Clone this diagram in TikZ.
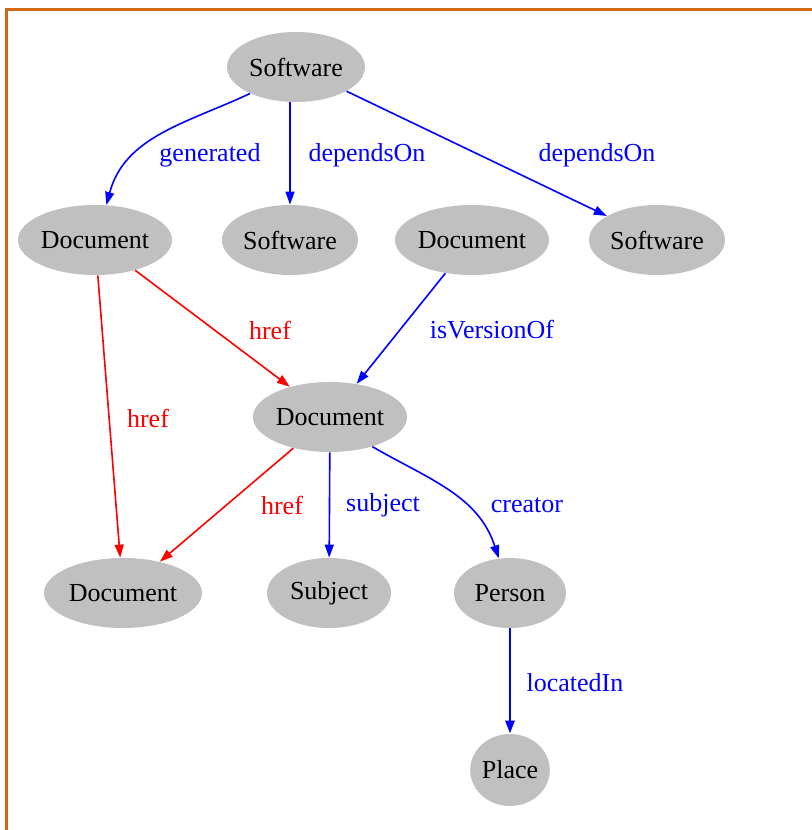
\documentclass[tikz,border=0pt]{standalone}
\usepackage{fontspec}
\setmainfont{Liberation Serif}
\usetikzlibrary{arrows.meta, shapes.geometric}
\definecolor{resgray}{RGB}{192,192,192}
\definecolor{frameorange}{RGB}{210,105,20}
\tikzset{
  res/.style={
    ellipse, fill=resgray, draw=none,
    minimum width=77pt, minimum height=35pt,
    inner sep=0pt, font=\fontsize{13}{15}\selectfont,
  },
  link/.style={
    -{Triangle[length=6.5pt, width=4.5pt]}, line width=0.8pt, draw=blue,
  },
  hreflink/.style={
    -{Triangle[length=6.5pt, width=4.5pt]}, line width=0.8pt, draw=red,
  },
  blabel/.style={
    text=blue, font=\fontsize{13}{15}\selectfont,
  },
  rlabel/.style={
    text=red, font=\fontsize{13}{15}\selectfont,
  },
  frame/.style={
    line width=1.5pt, draw=frameorange,
  }
}

\begin{document}
\begin{tikzpicture}[x=0.5pt, y=-0.5pt]

  \useasboundingbox (0,0) rectangle (812,830);
  \draw[frame] (6,830) -- (6,9) -- (812,9);

  \node[res, minimum width=69pt]   (sw)    at (296, 67)  {Software};
  \node[res]                       (doc1)  at (95, 240)  {Document};
  \node[res, minimum width=68pt]   (sw2)   at (290, 240) {Software};
  \node[res]                       (doc2)  at (472, 240) {Document};
  \node[res, minimum width=68pt]   (sw3)   at (657, 240) {Software};
  \node[res]                       (doc)   at (330, 417) {Document};
  \node[res, minimum width=79pt]   (doc3)  at (123, 593) {Document};
  \node[res, minimum width=62pt]   (subj)  at (329, 593) {Subject};
  \node[res, minimum width=56pt]   (pers)  at (510, 593) {Person};
  \node[res, minimum width=36pt, minimum height=36pt] (place) at (510, 770) {Place};

  \draw[link]     (sw.210) to[out=205, in=75] (doc1.72);
  \draw[link]     (sw2.north |- sw.south) -- (sw2);
  \draw[link]     (sw) -- (sw3);
  \draw[hreflink] (doc1) -- (doc);
  \draw[hreflink] (doc1) -- (doc3);
  \draw[link]     (doc2) -- (doc);
  \draw[hreflink] (doc) -- (doc3);
  \draw[link]     (doc) -- (subj);
  \draw[link]     (doc.-35) to[out=-30, in=108] (pers.108);
  \draw[link, line width=1.4pt] (pers) -- (place);

  \node[blabel] (lgen)   at (210, 155) {generated};
  \node[blabel] (ldep1)  at (367, 155) {dependsOn};
  \node[blabel] (ldep2)  at (597, 155) {dependsOn};
  \node[rlabel] (lhref1) at (270, 330) {href};
  \node[blabel] (lver)   at (492, 330) {isVersionOf};
  \node[rlabel] (lhref2) at (148, 418) {href};
  \node[rlabel] (lhref3) at (282, 505) {href};
  \node[blabel] (lsubj)  at (383, 505) {subject};
  \node[blabel] (lcre)   at (527, 505) {creator};
  \node[blabel] (lloc)   at (575, 683) {locatedIn};

\end{tikzpicture}
\end{document}
